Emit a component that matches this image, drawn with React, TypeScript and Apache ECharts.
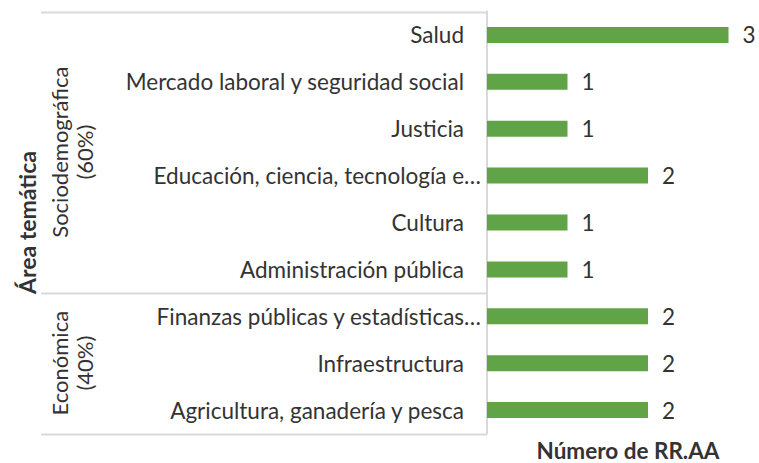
import React, { useEffect, useRef } from "react";
import * as echarts from "echarts";

const categories = [
  "Salud",
  "Mercado laboral y seguridad social",
  "Justicia",
  "Educación, ciencia, tecnología e…",
  "Cultura",
  "Administración pública",
  "Finanzas públicas y estadísticas…",
  "Infraestructura",
  "Agricultura, ganadería y pesca",
];
const values = [3, 1, 1, 2, 1, 1, 2, 2, 2];
const groupNames = ["Sociodemográfica", "Económica"];
const groupShares = ["(60%)", "(40%)"];
const groupSizes = [6, 3];
const yTitle = "Área temática";
const xTitle = "Número de RR.AA";

const FONT = "Lato";
const TEXT = "#333333";
const LINE = "#d9d9d9";
const GRID_LEFT = 487;
const GRID_TOP = 11.5;
const GRID_H = 422;
const GRID_W = 241.5;
const W = 759;
const H = 463;
const FS = 22.5;

export default function App() {
  const ref = useRef<HTMLDivElement>(null);
  useEffect(() => {
    if (!ref.current) return;
    const chart = echarts.init(ref.current, undefined, { renderer: "svg" });
    const band = GRID_H / categories.length;
    const graphics: any[] = [];
    let acc = 0;
    const bounds = [0];
    groupSizes.forEach((n) => {
      acc += n;
      bounds.push(acc);
    });
    bounds.forEach((b) => {
      const y = Math.round(GRID_TOP + b * band) + 0.5;
      graphics.push({
        type: "line",
        shape: { x1: 41, y1: y, x2: GRID_LEFT, y2: y },
        style: { stroke: LINE, lineWidth: 2 },
      });
    });
    groupNames.forEach((g, i) => {
      const cy = GRID_TOP + ((bounds[i] + bounds[i + 1]) / 2) * band;
      graphics.push({
        type: "text",
        x: 72,
        y: cy,
        rotation: Math.PI / 2,
        style: {
          text: g + "\n" + groupShares[i],
          fontFamily: FONT,
          fontSize: 22,
          lineHeight: 25,
          fill: TEXT,
          align: "center",
          verticalAlign: "middle",
        },
      });
    });
    graphics.push({
      type: "text",
      x: 27,
      y: GRID_TOP + GRID_H / 2,
      rotation: Math.PI / 2,
      style: {
        text: yTitle,
        fontFamily: FONT,
        fontSize: 23,
        fontWeight: "bold",
        fill: TEXT,
        align: "center",
        verticalAlign: "middle",
      },
    });
    graphics.push({
      type: "text",
      x: 628,
      y: 462,
      style: {
        text: xTitle,
        fontFamily: FONT,
        fontSize: FS,
        lineHeight: 24,
        fontWeight: "bold",
        fill: TEXT,
        align: "center",
        verticalAlign: "bottom",
      },
    });

    chart.setOption({
      animation: false,
      grid: { left: GRID_LEFT, top: GRID_TOP, width: GRID_W, height: GRID_H, containLabel: false },
      xAxis: {
        type: "value",
        min: 0,
        max: 3,
        show: false,
      },
      yAxis: {
        type: "category",
        data: categories,
        inverse: true,
        axisLine: { show: true, lineStyle: { color: LINE, width: 2 } },
        axisTick: { show: false },
        axisLabel: {
          margin: 6,
          formatter: (v: string) => (v.endsWith("…") ? `{e|${v}}` : `{n|${v}}`),
          rich: {
            n: { fontFamily: FONT, fontSize: FS, color: TEXT, padding: [0, 17, 0, 0] },
            e: { fontFamily: FONT, fontSize: FS, color: TEXT },
          },
        },
      },
      series: [
        {
          type: "bar",
          data: values,
          barWidth: 16,
          itemStyle: { color: "#60a447" },
          label: {
            show: true,
            position: "right",
            distance: 14,
            fontFamily: FONT,
            fontSize: FS,
            color: TEXT,
          },
        },
      ],
      graphic: graphics,
    });
    return () => chart.dispose();
  }, []);
  return (
    <div
      ref={ref}
      style={{ position: "fixed", left: 0, top: 0, width: W, height: H, background: "#fff" }}
    />
  );
}
